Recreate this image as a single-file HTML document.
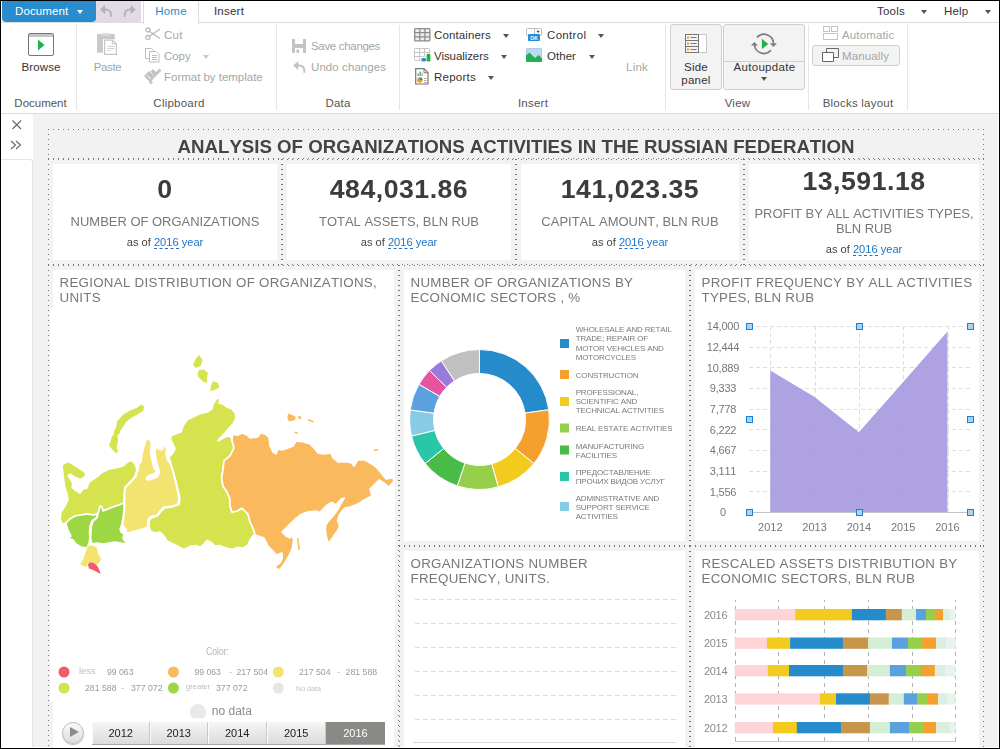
<!DOCTYPE html>
<html lang="en">
<head>
<meta charset="utf-8">
<title>Analysis of organizations activities in the Russian Federation</title>
<style>
*{box-sizing:border-box;margin:0;padding:0}
html,body{width:1000px;height:749px;overflow:hidden;background:#fff}
body{position:relative;font-family:"Liberation Sans",sans-serif;font-size:12px;color:#333}
.abs{position:absolute}
#frame{position:absolute;left:0;top:0;width:1000px;height:749px;border:1px solid #000;pointer-events:none;z-index:50}
/* ribbon */
#tabs{position:absolute;left:1px;top:1px;width:998px;height:22px;border-bottom:1px solid #dcdcdc;background:#fff}
#docbtn{position:absolute;left:1px;top:0;width:94px;height:21px;background:#288ccf;border-radius:0 0 4px 4px;color:#fff;font-size:11.5px;line-height:20px;padding-left:13px;letter-spacing:.1px}
#docbtn i{position:absolute;left:75px;top:9px;border:3px solid transparent;border-top:4px solid #fff;border-bottom:0}
#qat{position:absolute;left:94px;top:0;width:46px;height:21px;background:#e3dae7}
.tab{position:absolute;top:0;height:22px;font-size:11.5px;letter-spacing:.23px;line-height:20px;text-align:center;color:#333}
#tabhome{left:142px;width:56px;color:#288ccf;border-left:1px solid #dcdcdc;border-right:1px solid #dcdcdc;background:#fff;height:23px;z-index:2}
#tabins{left:199px;width:58px}
.menu{position:absolute;top:0;font-size:11.5px;letter-spacing:.2px;line-height:20px;color:#333}
.dd{position:absolute;width:0;height:0;border:3px solid transparent;border-top:4px solid #555;border-bottom:0}
#ribbon{position:absolute;left:1px;top:23px;width:998px;height:91px;background:#fff;border-bottom:1px solid #dcdcdc}
.sep{position:absolute;top:2px;width:1px;height:85px;background:#e6e6e6}
.glabel{position:absolute;top:72px;font-size:11.5px;letter-spacing:.23px;line-height:16px;color:#555;text-align:center;white-space:nowrap}
.rt{position:absolute;font-size:11.5px;letter-spacing:.23px;line-height:16px;color:#333;white-space:nowrap}
.dis{color:#a6a6a6}
.big{position:absolute;border:1px solid #cfcfcf;border-radius:3px;background:#f3f3f3}
/* workspace */
#work{position:absolute;left:1px;top:114px;width:997px;height:633px;background:#f2f2f2;overflow:hidden;will-change:transform;font-kerning:none}
#lpanel{position:absolute;left:0;top:0;width:32px;height:633px;background:#fff}
#lpanel2{position:absolute;left:-1px;top:45px;width:33px;height:600px;border:1px solid #e4e4e4;border-radius:0 3px 0 0;background:#fff}
.blk{position:absolute}
.blk>.bt,.blk>.bb{position:absolute;left:0;right:0;height:1px;background:repeating-linear-gradient(90deg,#777 0 1px,transparent 1px 5px)}
.blk>.bt{top:0}.blk>.bb{bottom:0}
.blk>.bl,.blk>.br{position:absolute;top:0;bottom:0;width:1px;background:repeating-linear-gradient(180deg,#777 0 1px,transparent 1px 5px)}
.blk>.bl{left:0}.blk>.br{right:0}
.blk>.in{position:absolute;left:5px;top:5px;right:5px;bottom:5px;background:#fff;overflow:hidden}
.ttl{position:absolute;left:6.5px;top:5px;font-size:13.33px;line-height:15.4px;letter-spacing:.28px;color:#777;white-space:nowrap}
.kv{position:absolute;left:0;right:0;text-align:center;font-weight:bold;font-size:26.67px;letter-spacing:.5px;line-height:30px;color:#3c3c3c;white-space:nowrap}
.kl{position:absolute;left:0;right:0;text-align:center;font-size:12.97px;line-height:15.2px;color:#777;white-space:nowrap}
.ka{position:absolute;left:0;right:0;text-align:center;font-size:11.1px;line-height:14px;color:#444;white-space:nowrap}
.ka b{font-weight:normal;color:#1a74c7}
.ka u{text-decoration:none;border-bottom:1px dashed #1a74c7}
#tl span{position:absolute;top:0;width:58.5px;height:22px;border-left:1px solid #fbfbfb;border-right:1px solid #c9c9c9}
</style>
</head>
<body>
<div id="tabs">
  <div id="qat"></div>
  <svg class="abs" style="left:94px;top:0" width="46" height="21" viewBox="95 1 46 21"><g fill="#b6b0ba"><path d="M100 9.500l5.200-4.700v9.400z"/><path d="M135.800 9.500l-5.200-4.700v9.400z"/></g><g fill="none" stroke="#b6b0ba" stroke-width="2"><path d="M104.500 9.500h1.500a5 5 0 0 1 5 5v2.300"/><path d="M131.300 9.500h-1.500a5 5 0 0 0-5 5v2.300"/></g></svg>
  <div id="docbtn">Document<i></i></div>
  <div class="tab" id="tabhome">Home</div>
  <div class="tab" id="tabins">Insert</div>
  <div class="menu" style="left:876px">Tools</div><div class="dd" style="left:920px;top:9px"></div>
  <div class="menu" style="left:943px">Help</div><div class="dd" style="left:984px;top:9px"></div>
</div>
<div id="ribbon">
  <!-- groups -->
  <div class="sep" style="left:75px"></div>
  <div class="sep" style="left:275px"></div>
  <div class="sep" style="left:398px"></div>
  <div class="sep" style="left:664px"></div>
  <div class="sep" style="left:807px"></div>
  <div class="sep" style="left:906px"></div>
  <div class="glabel" style="left:0;width:76px;padding-left:3px;letter-spacing:-0.02px">Document</div>
  <div class="glabel" style="left:78px;width:200px">Clipboard</div>
  <div class="glabel" style="left:276px;width:122px">Data</div>
  <div class="glabel" style="left:399px;width:266px">Insert</div>
  <div class="glabel" style="left:665px;width:143px">View</div>
  <div class="glabel" style="left:808px;width:98px">Blocks layout</div>

  <!-- Browse -->
  <svg class="abs" style="left:27px;top:10px" width="26" height="23" viewBox="0 0 26 23"><rect x=".5" y=".5" width="25" height="22" rx="1.5" fill="#fff" stroke="#777"/><rect x="1" y="1" width="24" height="3" fill="#c4c4c4"/><path d="M10 6.5v11l6.5-5.5z" fill="#21b04b"/></svg>
  <div class="rt" style="left:0;width:80px;top:36px;text-align:center;letter-spacing:0.13px">Browse</div>
  <!-- Paste -->
  <svg class="abs" style="left:96px;top:10px" width="21" height="23" viewBox="0 0 21 23"><rect x="0" y=".9" width="17.800" height="18.800" rx="1.200" fill="#c9c9c9"/><rect x="5" y="0" width="8" height="2.700" fill="#dedede"/><path d="M6 6h10.500l4.500 4v13h-15z" fill="#fff"/><path d="M7.600 7.100h7.800l4 4v10.200h-11.800z" fill="#fff" stroke="#c6c6c6" stroke-width="1.200"/><path d="M15.400 7.100v4h4" fill="none" stroke="#c6c6c6"/><path d="M10.500 13.500h7M10.500 15.500h7M10.500 17.500h3" stroke="#cfcfcf"/></svg>
  <div class="rt dis" style="left:81px;width:51px;top:36px;text-align:center;letter-spacing:-0.37px">Paste</div>
  <!-- Cut -->
  <svg class="abs" style="left:144px;top:4px" width="16" height="14" viewBox="0 0 16 14"><g fill="none" stroke="#b9b9b9" stroke-width="1.3"><circle cx="2.800" cy="3" r="2"/><circle cx="2.800" cy="10.500" r="2"/><path d="M4.500 4.200L15 11.500M4.500 9.300L15 2"/></g></svg>
  <div class="rt dis" style="left:163px;top:4px">Cut</div>
  <!-- Copy -->
  <svg class="abs" style="left:144px;top:25px" width="16" height="15" viewBox="0 0 16 15"><g fill="#fff" stroke="#bdbdbd"><path d="M.5 .5h6l2 2v8h-8z"/><path d="M4.500 3.500h6.500l3 3v7.500h-9.500z"/><path d="M7 7.500h5M7 9.500h5M7 11.500h5"/></g></svg>
  <div class="rt dis" style="left:163px;top:25px;letter-spacing:-0.07px">Copy</div><div class="dd" style="left:202px;top:32px;border-top-color:#c9c9c9"></div>
  <!-- Format -->
  <svg class="abs" style="left:143px;top:45px" width="18" height="17" viewBox="0 0 18 17"><g fill="#c3c3c3"><path d="M0 8l5-5 6 6-5 5.500z"/><path d="M6.500 3.500L9 1l3 3 3.500-3.500 2 2-6.500 6.500z"/><path d="M5 14.500l2-2 2 2-2 2z"/></g><path d="M3 7l4 4" stroke="#fff" stroke-width="1"/></svg>
  <div class="rt dis" style="left:163px;top:46px;letter-spacing:-0.02px">Format by template</div>
  <!-- Save / Undo -->
  <svg class="abs" style="left:291px;top:16px" width="14" height="14" viewBox="0 0 14 14"><path d="M0 0h14v14h-14z" fill="#c3c3c3"/><rect x="3" y="0" width="8" height="5" fill="#fff"/><rect x="3" y="9" width="8" height="5" fill="#fff"/><rect x="4.500" y="10.500" width="2.500" height="3.500" fill="#c3c3c3"/></svg>
  <div class="rt dis" style="left:310px;top:15px;letter-spacing:-0.32px">Save changes</div>
  <svg class="abs" style="left:291px;top:37px" width="14" height="14" viewBox="291 60 14 14"><path d="M292.200 65.400l5-4.500v9z" fill="#c2c2c2"/><path d="M296.500 65.400h2a4.800 4.800 0 0 1 4.800 4.800v2.600" fill="none" stroke="#c2c2c2" stroke-width="2"/></svg>
  <div class="rt dis" style="left:310px;top:36px;letter-spacing:0.08px">Undo changes</div>
  <!-- Insert group -->
  <svg class="abs" style="left:413px;top:5px" width="17" height="14" viewBox="0 0 17 14"><rect x=".7" y=".7" width="15.200" height="12.200" rx=".8" fill="#ededed" stroke="#8a8a8a" stroke-width="1.300"/><path d="M.7 4.700h15.200M.7 8.800h15.200M5.800 .7v12.200M10.900 .7v12.200" stroke="#8a8a8a" stroke-width="1.200"/></svg>
  <div class="rt" style="left:433px;top:4px;letter-spacing:0.13px">Containers</div><div class="dd" style="left:502px;top:11px"></div>
  <svg class="abs" style="left:413px;top:25px" width="18" height="14" viewBox="0 0 18 14"><rect x=".5" y=".5" width="15" height="12" rx=".8" fill="#fff" stroke="#c6c6c6"/><path d="M.5 4.500h15M.5 8.500h15M5.500 .5v12M10.500 .5v12" stroke="#c6c6c6"/><rect x="6.300" y="8.800" width="11.700" height="5.200" fill="#fff"/><rect x="11.500" y="5" width="6" height="4" fill="#fff"/><rect x="7.200" y="10" width="5" height="3.400" rx="1.700" fill="#2a8dd4"/><rect x="12.600" y="5.800" width="3.800" height="7.700" rx="1.300" fill="#21b04b"/></svg>
  <div class="rt" style="left:433px;top:25px;letter-spacing:-0.07px">Visualizers</div><div class="dd" style="left:500px;top:32px"></div>
  <svg class="abs" style="left:414px;top:45px" width="14" height="17" viewBox="0 0 14 17"><path d="M.7 .7h8.300l4 4v11.300h-12.300z" fill="#fff" stroke="#777" stroke-width="1.200"/><path d="M9 .7v4h4" fill="none" stroke="#777"/><path d="M3.200 5.500v2.500" stroke="#2a8dd4" stroke-width="1.200"/><path d="M5.200 3.500v4.500" stroke="#21b04b" stroke-width="1.200"/><path d="M7.200 4.700v3.300" stroke="#f29b2c" stroke-width="1.200"/><circle cx="4.800" cy="12" r="2.700" fill="#f29b2c"/><path d="M4.800 12v-2.700a2.700 2.700 0 0 1 2.700 2.700z" fill="#2a8dd4"/><path d="M9 10.500h2.500M9 12.500h2.500M9 14.500h2.500" stroke="#aaa"/></svg>
  <div class="rt" style="left:433px;top:46px">Reports</div><div class="dd" style="left:487px;top:53px"></div>
  <svg class="abs" style="left:525px;top:5px" width="17" height="14" viewBox="0 0 17 14"><rect x=".5" y=".5" width="15" height="7" rx=".8" fill="#fff" stroke="#bdbdbd"/><path d="M8.500 .5v7" stroke="#bdbdbd"/><path d="M10.400 2.800h3.400l-1.700 2.200z" fill="#444"/><rect x="2" y="6" width="12" height="7" rx="1" fill="#2a8dd4"/><text x="8" y="11.600" font-size="5" font-weight="bold" fill="#fff" text-anchor="middle" font-family="Liberation Sans, sans-serif">OK</text></svg>
  <div class="rt" style="left:546px;top:4px;letter-spacing:0.33px">Control</div><div class="dd" style="left:597px;top:11px"></div>
  <svg class="abs" style="left:525px;top:25px" width="16" height="14" viewBox="0 0 16 14"><rect x="0" y="0" width="16" height="14" rx="1" fill="#bcdbf1"/><rect x=".5" y=".5" width="15" height="13" rx="1" fill="none" stroke="#a9cde8"/><path d="M0 13V7.500l3.500-3 5.500 5.500 3.500-3 3.500 3.500v2.500a1 1 0 0 1-1 1h-14a1 1 0 0 1-1-1z" fill="#21b04b"/></svg>
  <div class="rt" style="left:546px;top:25px;letter-spacing:0.03px">Other</div><div class="dd" style="left:588px;top:32px"></div>
  <div class="rt dis" style="left:625px;top:36px">Link</div>
  <!-- View group -->
  <div class="big" style="left:669px;top:1px;width:52px;height:66px"></div>
  <svg class="abs" style="left:684px;top:11px" width="22" height="19" viewBox="0 0 22 19"><rect x=".5" y=".5" width="21" height="18" fill="#fff" stroke="#c8c8c8"/><rect x=".5" y=".5" width="13" height="18" fill="#f4f4f4" stroke="#777"/><path d="M.5 6.500h13M.5 12.500h13" stroke="#777"/><path d="M2 3.500h2M2 9.500h2M2 15.500h2" stroke="#f29b2c" stroke-width="2"/><path d="M5.500 3.500h6M5.500 9.500h6M5.500 15.500h6" stroke="#777"/></svg>
  <div class="rt" style="left:669px;width:52px;top:38px;text-align:center;line-height:13px">Side<br>panel</div>
  <div class="big" style="left:722px;top:1px;width:82px;height:66px"></div>
  <div class="abs" style="left:723px;top:38px;width:80px;height:1px;background:#cfcfcf"></div>
  <svg class="abs" style="left:749px;top:9px" width="28" height="24" viewBox="0 0 28 24"><g fill="none" stroke="#7a7a7a" stroke-width="1.700"><path d="M6.900 5.400A9.550 9.550 0 0 1 23.500 11"/><path d="M21 18.300A9.550 9.550 0 0 1 4.450 13"/></g><path d="M19.900 11.300h7l-3.400 3.700zM.95 13.600h7l-3.500-3.700z" fill="#7a7a7a"/><path d="M11.900 6.800v10.300l6.400-5.200z" fill="#21b04b"/></svg>
  <div class="rt" style="left:722px;width:83px;top:36px;text-align:center;letter-spacing:0.33px">Autoupdate</div><div class="dd" style="left:760px;top:54px"></div>
  <!-- Blocks layout -->
  <svg class="abs" style="left:822px;top:3px" width="15" height="14" viewBox="0 0 15 14"><g fill="#fff" stroke="#c4c4c4"><rect x=".5" y=".5" width="6" height="5"/><rect x="8.500" y=".5" width="6" height="5"/><rect x=".5" y="7.500" width="14" height="6"/></g></svg>
  <div class="rt dis" style="left:841px;top:4px;letter-spacing:0.13px">Automatic</div>
  <div class="big" style="left:811px;top:22px;width:88px;height:21px"></div>
  <svg class="abs" style="left:821px;top:25px" width="17" height="14" viewBox="0 0 17 14"><g fill="#f3f3f3" stroke="#666"><path d="M4.500 .5h12v9h-12z"/><path d="M.5 4.500h11v9h-11z" fill="#fff"/></g></svg>
  <div class="rt dis" style="left:841px;top:25px;letter-spacing:0.13px">Manually</div>
</div>
<div id="work">
  <div id="lpanel"></div><div id="lpanel2"></div>
  <svg class="abs" style="left:10px;top:5px" width="11" height="11" viewBox="0 0 11 11"><path d="M1.500 1.500l8.500 8.500M10 1.500l-8.500 8.500" stroke="#666" stroke-width="1.100" fill="none"/></svg>
  <svg class="abs" style="left:9px;top:26px" width="12" height="10" viewBox="0 0 12 10"><path d="M1 1l4.500 4-4.500 4M6 1l4.500 4-4.500 4" stroke="#666" stroke-width="1.100" fill="none"/></svg>
  <!-- title block -->
  <div class="blk" style="left:47px;top:15px;width:936px;height:30px"><div class="bt"></div><div class="bb"></div><div class="bl"></div><div class="br"></div>
    <div class="abs" style="left:0;right:0;top:6.5px;text-align:center;font-weight:bold;font-size:18.67px;line-height:22px;color:#444;white-space:nowrap">ANALYSIS OF ORGANIZATIONS ACTIVITIES IN THE RUSSIAN FEDERATION</div>
  </div>
  <!-- KPI cards -->
  <div class="blk" style="left:47px;top:45px;width:234px;height:106px"><div class="bt"></div><div class="bb"></div><div class="bl"></div><div class="br"></div><div class="in">
    <div class="kv" style="top:10px">0</div><div class="kl" style="top:50px">NUMBER OF ORGANIZATIONS</div><div class="ka" style="top:70.5px">as of <b><u>2016</u> year</b></div></div></div>
  <div class="blk" style="left:281px;top:45px;width:234px;height:106px"><div class="bt"></div><div class="bb"></div><div class="bl"></div><div class="br"></div><div class="in">
    <div class="kv" style="top:10px">484,031.86</div><div class="kl" style="top:50px">TOTAL ASSETS, BLN RUB</div><div class="ka" style="top:70.5px">as of <b><u>2016</u> year</b></div></div></div>
  <div class="blk" style="left:515px;top:45px;width:228px;height:106px"><div class="bt"></div><div class="bb"></div><div class="bl"></div><div class="br"></div><div class="in">
    <div class="kv" style="top:10px">141,023.35</div><div class="kl" style="top:50px">CAPITAL AMOUNT, BLN RUB</div><div class="ka" style="top:70.5px">as of <b><u>2016</u> year</b></div></div></div>
  <div class="blk" style="left:743px;top:45px;width:240px;height:106px"><div class="bt"></div><div class="bb"></div><div class="bl"></div><div class="br"></div><div class="in">
    <div class="kv" style="top:2px">13,591.18</div><div class="kl" style="top:42px">PROFIT BY ALL ACTIVITIES TYPES,<br>BLN RUB</div><div class="ka" style="top:78px">as of <b><u>2016</u> year</b></div></div></div>
  <!-- map block -->
  <div class="blk" style="left:47px;top:151px;width:351px;height:500px"><div class="bt"></div><div class="bl"></div><div class="br"></div><div class="abs" style="left:2px;top:43px;width:345px;height:394px;background:#fff"></div><div class="in" id="mapin">
    <div class="ttl">REGIONAL DISTRIBUTION OF ORGANIZATIONS,<br>UNITS</div>
    <!-- MAPSTART -->
<svg class="abs" style="left:0;top:0" width="341" height="480" viewBox="53 270 341 480">
<g stroke="#fff" stroke-width="1.6" stroke-linejoin="round">
<path fill="#d5e34f" d="M62.0 465.0 67.0 461.6 72.0 463.6 79.0 468.0 85.0 472.0 86.0 476.0 81.0 479.6 75.0 477.6 70.6 474.0 68.0 475.6 71.0 480.0 73.0 484.0 72.0 487.0 75.0 490.0 80.0 493.0 83.0 489.0 87.0 488.0 89.0 482.0 95.0 478.0 98.0 476.0 103.0 472.0 109.0 469.0 115.0 468.0 123.0 466.0 128.0 461.6 132.0 460.4 135.0 464.0 137.0 470.0 135.0 476.0 132.0 480.0 128.0 484.0 125.0 487.0 124.0 494.0 124.0 503.0 119.0 505.0 113.0 507.0 108.0 509.0 103.0 511.0 102.0 507.0 100.0 506.0 99.0 510.0 98.0 514.0 93.0 515.0 87.0 514.0 81.0 515.0 75.0 516.0 70.0 519.0 66.0 523.0 62.0 524.0 60.0 519.0 61.0 512.0 65.0 506.0 68.0 500.0 67.0 494.0 65.0 488.0 64.0 482.0 63.0 474.0z"/>
<path fill="#d5e34f" stroke="none" d="M141.4 404.4 144.2 407.0 143.0 411.0 137.0 414.8 131.0 418.0 126.2 422.0 123.0 427.0 120.2 431.0 119.4 434.0 117.8 434.8 117.4 437.0 118.2 439.4 117.2 444.4 116.6 448.0 118.2 451.2 116.2 453.2 112.2 449.6 109.0 445.2 111.0 440.6 111.8 436.6 113.8 434.8 114.2 430.4 116.2 427.2 117.2 421.2 123.0 414.8 130.2 410.4 136.6 408.0z"/>
<path fill="#9dd844" d="M66.0 523.0 70.0 519.0 75.0 516.0 81.0 515.0 87.0 514.0 93.0 515.0 98.0 514.0 96.0 518.0 92.0 521.0 90.0 526.0 89.4 532.0 90.0 538.0 89.0 543.0 87.0 548.0 81.0 547.0 76.0 544.0 73.0 540.0 68.0 538.0 71.0 536.0 68.0 530.0 66.6 526.0z"/>
<path fill="#9dd844" d="M99.0 510.0 100.0 506.4 102.0 507.0 103.0 511.0 108.0 509.0 113.0 507.0 119.0 505.0 124.0 503.0 124.0 510.0 123.0 518.0 122.0 524.0 120.0 529.0 121.0 532.0 124.0 534.0 123.0 538.0 125.0 541.0 128.0 544.0 121.0 543.0 115.0 542.0 109.0 543.0 103.0 544.0 97.0 543.0 92.0 544.0 90.6 538.0 91.0 532.0 91.4 526.0 93.4 521.0 97.0 518.0z"/>
<path fill="#f3e472" stroke="none" d="M88.0 546.0 93.0 545.6 97.0 548.0 98.0 554.0 101.0 558.0 100.0 562.0 96.0 565.0 92.0 562.0 88.0 563.0 87.0 567.0 83.0 566.0 80.0 564.0 83.0 560.0 85.0 554.0 86.6 549.0z"/>
<path fill="#ee5d6c" stroke="none" d="M89.0 562.4 93.0 562.4 97.0 565.6 99.4 570.0 100.6 574.0 97.0 572.0 93.0 570.0 89.0 568.4 88.0 565.0z"/>
<path fill="#f3e472" d="M146.0 439.4 150.0 439.4 151.4 442.0 150.6 452.0 152.0 460.0 154.0 468.0 157.0 472.0 153.0 474.0 148.0 476.0 146.0 479.0 149.0 480.0 155.0 478.0 158.0 476.0 159.4 472.0 158.0 467.0 156.0 460.0 155.0 452.0 155.6 446.0 158.0 449.0 162.0 450.0 164.6 445.0 166.6 448.0 166.0 454.0 167.0 458.0 167.0 459.0 171.0 465.0 173.0 472.0 175.0 480.0 177.4 490.0 179.0 499.0 178.0 504.0 173.0 506.0 164.0 507.0 161.0 510.0 157.0 515.0 150.0 517.0 148.0 520.0 147.4 527.0 143.0 529.0 135.0 531.0 128.0 533.0 126.0 538.0 127.0 534.0 126.0 529.0 124.0 527.0 122.6 525.0 123.6 518.0 124.6 510.0 124.6 504.0 124.6 496.0 125.0 488.0 128.0 485.0 132.0 481.0 136.0 476.0 138.0 470.0 139.0 464.0 141.0 462.0 142.0 454.0 144.0 446.0z"/>
<path fill="#d5e34f" d="M217.0 398.0 220.0 399.0 219.0 403.0 223.0 404.0 227.0 407.0 232.0 409.0 235.0 413.0 236.0 418.0 233.0 424.0 229.0 428.0 225.0 433.0 219.0 439.0 218.0 441.0 225.0 437.0 230.0 436.0 232.0 440.0 234.0 448.0 230.0 456.0 224.0 461.0 223.0 470.0 221.6 478.0 223.0 486.0 227.0 492.0 230.0 499.0 230.0 506.0 232.0 512.0 237.0 511.0 242.0 508.0 248.0 514.0 250.0 522.0 253.0 528.0 255.0 534.0 253.0 536.0 250.0 540.0 248.0 545.0 243.0 548.0 238.0 547.4 232.0 549.4 226.0 548.0 220.0 545.6 215.0 546.0 211.0 542.4 207.0 540.4 204.0 544.0 200.0 547.4 197.0 545.6 191.0 546.0 184.0 549.4 179.0 547.0 173.0 544.0 167.0 541.0 164.0 536.0 160.0 532.0 155.0 533.0 150.6 531.0 149.0 527.0 149.0 521.0 151.0 518.0 157.4 516.0 161.4 511.0 164.6 508.0 173.4 506.6 179.0 504.4 180.0 499.0 178.0 490.0 175.6 480.0 173.4 472.0 171.0 464.0 169.0 457.0 172.0 454.0 175.0 449.0 173.0 444.0 170.6 440.0 171.0 436.0 175.0 434.0 181.0 432.0 183.0 426.0 187.0 420.0 193.0 417.0 199.0 414.0 207.0 412.0 212.0 409.0 213.0 404.0z"/>
<path fill="#d5e34f" stroke="none" d="M199.0 355.0 202.6 360.0 200.6 366.0 196.0 368.0 193.0 365.0 195.0 360.0z"/>
<path fill="#d5e34f" stroke="none" d="M199.0 370.0 204.0 369.6 208.0 373.0 207.0 378.0 207.4 383.0 204.0 382.0 199.0 378.0 197.4 374.0z"/>
<path fill="#d5e34f" stroke="none" d="M213.0 381.0 218.0 383.0 219.4 387.0 216.0 389.6 210.0 391.0 211.0 386.0z"/>
<path fill="#f9b95c" d="M233.0 433.6 237.0 435.6 242.0 433.0 247.0 435.0 250.0 438.0 258.0 437.0 260.0 433.0 265.0 434.0 269.0 437.0 270.0 446.0 273.0 452.0 276.0 454.0 278.0 449.0 282.0 450.0 288.0 448.0 293.0 446.0 296.0 441.0 302.0 441.6 310.0 444.0 314.0 448.0 318.0 453.0 324.0 454.0 331.0 453.0 333.0 458.0 338.0 462.0 345.0 461.6 352.0 463.0 354.0 466.4 358.0 459.6 365.0 460.0 372.0 464.0 378.0 469.0 382.0 474.0 386.0 479.0 393.0 478.0 394.0 481.0 389.0 487.0 384.0 483.0 379.0 480.0 375.0 484.0 370.0 489.0 372.0 496.0 366.0 499.0 358.0 504.0 350.0 507.0 344.8 508.0 342.0 511.0 339.0 516.0 337.6 520.4 339.4 525.0 338.4 529.4 335.4 533.4 332.8 537.4 330.4 541.0 328.2 542.8 326.2 536.0 325.4 530.0 325.8 525.0 328.4 521.0 331.4 518.0 335.0 513.6 338.4 508.4 341.2 503.0 344.4 498.0 341.0 499.0 338.0 502.4 336.0 505.0 332.0 502.4 327.0 505.0 322.0 510.0 320.0 512.4 316.0 511.0 306.0 512.4 300.0 515.0 294.0 520.0 288.0 526.0 282.0 532.0 286.0 536.0 290.0 538.0 292.0 535.0 293.6 540.0 292.4 548.0 290.0 554.0 286.0 561.0 282.0 567.0 279.0 570.0 275.6 568.0 276.0 565.6 280.0 563.0 282.4 558.0 282.0 553.0 276.0 555.0 272.0 550.0 268.0 546.0 264.0 538.0 258.0 536.0 255.0 535.0 255.0 534.0 253.0 528.0 250.0 522.0 248.0 514.0 242.0 508.0 237.0 511.0 232.0 512.0 230.0 506.0 230.0 499.0 227.0 492.0 223.0 486.0 221.6 478.0 223.0 470.0 224.0 461.0 230.0 456.0 234.0 448.0 232.0 440.0z"/>
<path fill="#f9b95c" stroke="none" d="M288.0 413.6 292.0 415.0 295.6 416.4 295.0 420.0 289.0 421.6 287.4 418.0z"/>
<path fill="#f9b95c" stroke="none" d="M298.4 415.6 301.0 416.4 300.6 419.6 298.4 418.4z"/>
<path fill="#f9b95c" stroke="none" d="M308.0 419.0 313.6 421.0 313.0 422.4 308.0 420.4z"/>
<path fill="#f9b95c" stroke="none" d="M294.4 431.4 298.0 432.4 297.6 434.0 294.4 432.8z"/>
<path fill="#f9b95c" stroke="none" d="M374.0 449.4 378.4 449.0 378.0 450.6 373.6 451.0z"/>
<path fill="#f9b95c" stroke="none" d="M297.0 538.0 298.4 538.0 300.0 549.6 298.4 550.0z"/>
</g>
<g font-family="Liberation Sans, sans-serif">
<text x="206" y="655.3" font-size="10" fill="#b4b4b4" textLength="23" lengthAdjust="spacingAndGlyphs">Color:</text>
<circle cx="64" cy="672" r="5.5" fill="#ee5d6c"/><circle cx="173.4" cy="672" r="5.5" fill="#f9b95c"/><circle cx="278.3" cy="672" r="5.5" fill="#f3e472"/><circle cx="64" cy="688" r="5.5" fill="#d5e34f"/><circle cx="173.4" cy="688" r="5.5" fill="#9dd844"/><circle cx="278.3" cy="688" r="5.5" fill="#e6e6e6"/>
<g font-size="9.500" fill="#9a9a9a"><text x="107" y="675.3" textLength="26.5" lengthAdjust="spacingAndGlyphs">99 063</text><text x="194.4" y="675.3" textLength="26.5" lengthAdjust="spacingAndGlyphs">99 063</text><text x="229" y="675.3" fill="#bbb">-</text><text x="236.5" y="675.3" textLength="31.5" lengthAdjust="spacingAndGlyphs">217 504</text><text x="299" y="675.3" textLength="31.5" lengthAdjust="spacingAndGlyphs">217 504</text><text x="337" y="675.3" fill="#bbb">-</text><text x="345.6" y="675.3" textLength="31.5" lengthAdjust="spacingAndGlyphs">281 588</text><text x="85" y="691.3" textLength="31.5" lengthAdjust="spacingAndGlyphs">281 588</text><text x="121" y="691.3" fill="#bbb">-</text><text x="131" y="691.3" textLength="31.5" lengthAdjust="spacingAndGlyphs">377 072</text><text x="216" y="691.3" textLength="31.5" lengthAdjust="spacingAndGlyphs">377 072</text></g>
<text x="79" y="674.3" textLength="16.5" lengthAdjust="spacingAndGlyphs" font-size="9.500" fill="#bdbdbd">less</text><text x="186" y="688.8" textLength="24" lengthAdjust="spacingAndGlyphs" font-size="7.500" fill="#bdbdbd">greater</text><text x="296" y="691" textLength="25" lengthAdjust="spacingAndGlyphs" font-size="7.500" fill="#c4c4c4">No data</text>
<path d="M190.500 714.800a8 8 0 1 1 15 0l-1.700 3.400h-11.600z" fill="#e9e9e9"/><text x="211.8" y="714.6" textLength="40" lengthAdjust="spacingAndGlyphs" font-size="12.300" fill="#8c8c8c">no data</text>
</g>
</svg>
<div class="abs" style="left:9px;top:452px;width:22px;height:22px;border-radius:11px;border:1px solid #bdbdbd;background:linear-gradient(#fafafa,#dedede);box-shadow:0 1px 1px rgba(0,0,0,.25)"></div>
<div class="abs" style="left:17px;top:457px;width:0;height:0;border:5px solid transparent;border-left:9px solid #8b8b8b;border-right:0"></div>
<div class="abs" id="tl" style="left:39px;top:452px;width:293px;height:23px;border-bottom:1px solid #a8a8a8;background:linear-gradient(#f6f6f6,#dbdbdb);font-size:11px;line-height:22px;color:#222;text-align:center">
<span style="left:0;width:57.500px">2012</span><span style="left:57.500px">2013</span><span style="left:116px">2014</span><span style="left:174.500px;width:59.500px">2015</span><span style="left:234px;width:59px;background:#8b8986;color:#fff;border:0">2016</span></div>
    <!-- MAPEND -->
  </div></div>
  <!-- donut block -->
  <div class="blk" style="left:398px;top:151px;width:291px;height:281px"><div class="bt"></div><div class="bb"></div><div class="bl"></div><div class="br"></div><div class="in" id="donutin">
    <div class="ttl">NUMBER OF ORGANIZATIONS BY<br>ECONOMIC SECTORS , %</div>
    <!-- DONUTSTART -->
<svg class="abs" style="left:0;top:0" width="281" height="271" viewBox="404 270 281 271">
<g stroke="#fff" stroke-width="1">
<path fill="#268bca" d="M479.50 349.50A70 70 0 0 1 548.82 409.76L525.05 413.10A46 46 0 0 0 479.50 373.50z"/>
<path fill="#f4a02e" d="M548.82 409.76A70 70 0 0 1 533.90 463.55L515.25 448.45A46 46 0 0 0 525.05 413.10z"/>
<path fill="#f3cb1f" d="M533.90 463.55A70 70 0 0 1 498.21 486.95L491.79 463.83A46 46 0 0 0 515.25 448.45z"/>
<path fill="#95cf4c" d="M498.21 486.95A70 70 0 0 1 457.29 485.88L464.90 463.12A46 46 0 0 0 491.79 463.83z"/>
<path fill="#49bb48" d="M457.29 485.88A70 70 0 0 1 425.10 463.55L443.75 448.45A46 46 0 0 0 464.90 463.12z"/>
<path fill="#29c7a8" d="M425.10 463.55A70 70 0 0 1 411.49 436.08L434.81 430.39A46 46 0 0 0 443.75 448.45z"/>
<path fill="#88cbe6" d="M411.49 436.08A70 70 0 0 1 410.16 409.88L433.94 413.18A46 46 0 0 0 434.81 430.39z"/>
<path fill="#5ba1df" d="M410.16 409.88A70 70 0 0 1 419.00 384.29L439.74 396.36A46 46 0 0 0 433.94 413.18z"/>
<path fill="#e454a1" d="M419.00 384.29A70 70 0 0 1 429.49 370.52L446.63 387.32A46 46 0 0 0 439.74 396.36z"/>
<path fill="#9b7bd8" d="M429.49 370.52A70 70 0 0 1 441.38 360.79L454.45 380.92A46 46 0 0 0 446.63 387.32z"/>
<path fill="#c0c0c0" d="M441.38 360.79A70 70 0 0 1 479.50 349.50L479.50 373.50A46 46 0 0 0 454.45 380.92z"/>
</g>
<g font-family="Liberation Sans, sans-serif" font-size="8" letter-spacing="-0.15" fill="#7a7a7a">
<rect x="560" y="339" width="9" height="9" fill="#268bca"/><text x="575.7" y="332.3">WHOLESALE AND RETAIL</text><text x="575.7" y="341.4">TRADE; REPAIR OF</text><text x="575.7" y="350.5">MOTOR VEHICLES AND</text><text x="575.7" y="359.6">MOTORCYCLES</text>
<rect x="560" y="370" width="9" height="9" fill="#f4a02e"/><text x="575.7" y="377.8">CONSTRUCTION</text>
<rect x="560" y="397" width="9" height="9" fill="#f3cb1f"/><text x="575.7" y="394.8">PROFESSIONAL,</text><text x="575.7" y="403.8">SCIENTIFIC AND</text><text x="575.7" y="412.8">TECHNICAL ACTIVITIES</text>
<rect x="560" y="423.5" width="9" height="9" fill="#95cf4c"/><text x="575.7" y="431.2">REAL ESTATE ACTIVITIES</text>
<rect x="560" y="445.5" width="9" height="9" fill="#49bb48"/><text x="575.7" y="449">MANUFACTURING</text><text x="575.7" y="458">FACILITIES</text>
<rect x="560" y="472" width="9" height="9" fill="#29c7a8"/><text x="575.7" y="475.4">ПРЕДОСТАВЛЕНИЕ</text><text x="575.7" y="484.3">ПРОЧИХ ВИДОВ УСЛУГ</text>
<rect x="560" y="502" width="9" height="9" fill="#88cbe6"/><text x="575.7" y="500.9">ADMINISTRATIVE AND</text><text x="575.7" y="509.9">SUPPORT SERVICE</text><text x="575.7" y="519">ACTIVITIES</text>
</g>
</svg>
    <!-- DONUTEND -->
  </div></div>
  <!-- area block -->
  <div class="blk" style="left:689px;top:151px;width:294px;height:281px"><div class="bt"></div><div class="bb"></div><div class="bl"></div><div class="br"></div><div class="in" id="areain">
    <div class="ttl">PROFIT FREQUENCY BY ALL ACTIVITIES<br>TYPES, BLN RUB</div>
    <!-- AREASTART -->
<svg class="abs" style="left:0;top:0" width="284" height="271" viewBox="695 270 284 271">
<g stroke="#dedede" stroke-dasharray="4 3" fill="none" shape-rendering="crispEdges">
<path d="M749 326.5H970"/><path d="M749 347.5H970"/><path d="M749 367.5H970"/><path d="M749 388.5H970"/><path d="M749 409.5H970"/><path d="M749 429.5H970"/><path d="M749 450.5H970"/><path d="M749 471.5H970"/><path d="M749 491.5H970"/><path d="M770.5 326V512"/><path d="M815.5 326V512"/><path d="M859.5 326V512"/><path d="M903.5 326V512"/><path d="M948.5 326V512"/>
</g>
<path fill="#a598e0" fill-opacity=".9" d="M770.3 512L770.3 370.5L814.6 397.0L858.9 432.3L903.2 382.0L947.5 331.5L947.5 512z"/>
<path d="M749 512.5H970" stroke="#c4c4c4" shape-rendering="crispEdges"/>
<g font-family="Liberation Sans, sans-serif" font-size="11" fill="#777" text-anchor="middle">
<text x="723" y="330.2" letter-spacing="-0.2">14,000</text><text x="723" y="350.9" letter-spacing="-0.2">12,444</text><text x="723" y="371.5" letter-spacing="-0.2">10,889</text><text x="723" y="392.2" letter-spacing="-0.2">9,333</text><text x="723" y="412.9" letter-spacing="-0.2">7,778</text><text x="723" y="433.5" letter-spacing="-0.2">6,222</text><text x="723" y="454.2" letter-spacing="-0.2">4,667</text><text x="723" y="474.9" letter-spacing="-0.2">3,111</text><text x="723" y="495.5" letter-spacing="-0.2">1,556</text><text x="723" y="516.2" letter-spacing="-0.2">0</text>
<text x="770.3" y="530.6">2012</text><text x="814.6" y="530.6">2013</text><text x="858.9" y="530.6">2014</text><text x="903.2" y="530.6">2015</text><text x="947.5" y="530.6">2016</text>
</g>
<g fill="#a9d3f1" stroke="#1c80d6" shape-rendering="crispEdges">
<rect x="746.5" y="323.5" width="6" height="6"/><rect x="746.5" y="416.5" width="6" height="6"/><rect x="746.5" y="509.5" width="6" height="6"/><rect x="856.5" y="323.5" width="6" height="6"/><rect x="856.5" y="509.5" width="6" height="6"/><rect x="967.5" y="323.5" width="6" height="6"/><rect x="967.5" y="416.5" width="6" height="6"/><rect x="967.5" y="509.5" width="6" height="6"/>
</g>
</svg>
    <!-- AREAEND -->
  </div></div>
  <!-- freq block -->
  <div class="blk" style="left:398px;top:432px;width:291px;height:260px"><div class="bt"></div><div class="bl"></div><div class="br"></div><div class="in" id="freqin">
    <div class="ttl">ORGANIZATIONS NUMBER<br>FREQUENCY, UNITS.</div>
    <!-- FREQSTART -->
<svg class="abs" style="left:0;top:0" width="281" height="198" viewBox="404 551 281 198">
<g stroke="#dedede" stroke-dasharray="5 3" shape-rendering="crispEdges"><path d="M415 599.5H676"/><path d="M415 623.5H676"/><path d="M415 647.5H676"/><path d="M415 671.5H676"/><path d="M415 695.5H676"/><path d="M415 719.5H676"/></g>
<path d="M413 742.5H676" stroke="#d8d8d8" shape-rendering="crispEdges"/>
</svg>
    <!-- FREQEND -->
  </div></div>
  <!-- bars block -->
  <div class="blk" style="left:689px;top:432px;width:294px;height:260px"><div class="bt"></div><div class="bl"></div><div class="br"></div><div class="in" id="barsin">
    <div class="ttl">RESCALED ASSETS DISTRIBUTION BY<br>ECONOMIC SECTORS, BLN RUB</div>
    <!-- BARSSTART -->
<svg class="abs" style="left:0;top:0" width="284" height="198" viewBox="695 551 284 198">
<g stroke="#b0b0b0" stroke-dasharray="4 3.7" stroke-dashoffset="1.7" shape-rendering="crispEdges"><path d="M735.5 600V741"/><path d="M778.5 600V741"/><path d="M824.5 600V741"/><path d="M868.5 600V741"/><path d="M912.5 600V741"/><path d="M955.5 600V741"/></g>
<rect x="734.7" y="609" width="60.5" height="11.300" fill="#ffd4d6"/><rect x="795.1" y="609" width="57.0" height="11.300" fill="#f3cb1f"/><rect x="851.9" y="609" width="34.1" height="11.300" fill="#268bca"/><rect x="885.8" y="609" width="16.2" height="11.300" fill="#c8964a"/><rect x="901.8" y="609" width="14.4" height="11.300" fill="#d4efd6"/><rect x="916.0" y="609" width="10.1" height="11.300" fill="#5ba1df"/><rect x="925.9" y="609" width="9.2" height="11.300" fill="#95cf4c"/><rect x="934.8" y="609" width="8.3" height="11.300" fill="#f4a02e"/><rect x="943.0" y="609" width="7.5" height="11.300" fill="#dceee0"/><rect x="950.2" y="609" width="5.4" height="11.300" fill="#e8f3ee"/>
<rect x="734.7" y="637.5" width="32.4" height="11.300" fill="#ffd4d6"/><rect x="766.9" y="637.5" width="23.4" height="11.300" fill="#f3cb1f"/><rect x="790.1" y="637.5" width="53.0" height="11.300" fill="#268bca"/><rect x="842.9" y="637.5" width="25.4" height="11.300" fill="#c8964a"/><rect x="868.1" y="637.5" width="24.0" height="11.300" fill="#d4efd6"/><rect x="891.9" y="637.5" width="16.2" height="11.300" fill="#5ba1df"/><rect x="907.9" y="637.5" width="14.4" height="11.300" fill="#95cf4c"/><rect x="922.1" y="637.5" width="14.1" height="11.300" fill="#f4a02e"/><rect x="936.0" y="637.5" width="10.1" height="11.300" fill="#dceee0"/><rect x="945.9" y="637.5" width="9.8" height="11.300" fill="#e8f3ee"/>
<rect x="734.7" y="665" width="33.3" height="11.300" fill="#ffd4d6"/><rect x="767.8" y="665" width="21.4" height="11.300" fill="#f3cb1f"/><rect x="789.0" y="665" width="54.1" height="11.300" fill="#268bca"/><rect x="842.9" y="665" width="24.6" height="11.300" fill="#c8964a"/><rect x="867.3" y="665" width="22.8" height="11.300" fill="#d4efd6"/><rect x="889.9" y="665" width="16.2" height="11.300" fill="#5ba1df"/><rect x="905.8" y="665" width="15.3" height="11.300" fill="#95cf4c"/><rect x="920.9" y="665" width="14.1" height="11.300" fill="#f4a02e"/><rect x="934.8" y="665" width="10.4" height="11.300" fill="#dceee0"/><rect x="945.0" y="665" width="10.6" height="11.300" fill="#e8f3ee"/>
<rect x="734.7" y="693.3" width="85.5" height="11.300" fill="#ffd4d6"/><rect x="820.0" y="693.3" width="16.2" height="11.300" fill="#f3cb1f"/><rect x="836.0" y="693.3" width="34.1" height="11.300" fill="#268bca"/><rect x="869.9" y="693.3" width="19.1" height="11.300" fill="#c8964a"/><rect x="888.7" y="693.3" width="15.3" height="11.300" fill="#d4efd6"/><rect x="903.8" y="693.3" width="13.3" height="11.300" fill="#5ba1df"/><rect x="916.9" y="693.3" width="11.2" height="11.300" fill="#95cf4c"/><rect x="927.9" y="693.3" width="10.4" height="11.300" fill="#f4a02e"/><rect x="938.0" y="693.3" width="9.2" height="11.300" fill="#dceee0"/><rect x="947.0" y="693.3" width="8.6" height="11.300" fill="#e8f3ee"/>
<rect x="734.7" y="722" width="38.5" height="11.300" fill="#ffd4d6"/><rect x="773.0" y="722" width="24.0" height="11.300" fill="#f3cb1f"/><rect x="796.8" y="722" width="44.3" height="11.300" fill="#268bca"/><rect x="840.9" y="722" width="29.2" height="11.300" fill="#c8964a"/><rect x="869.9" y="722" width="20.2" height="11.300" fill="#d4efd6"/><rect x="889.9" y="722" width="19.3" height="11.300" fill="#5ba1df"/><rect x="909.0" y="722" width="14.1" height="11.300" fill="#95cf4c"/><rect x="923.0" y="722" width="13.3" height="11.300" fill="#f4a02e"/><rect x="936.0" y="722" width="14.4" height="11.300" fill="#dceee0"/><rect x="950.2" y="722" width="5.4" height="11.300" fill="#e8f3ee"/>
<path d="M735 741.5H956" stroke="#c8c8c8" shape-rendering="crispEdges"/>
<g font-family="Liberation Sans, sans-serif" font-size="11" fill="#8a8a8a"><text x="704" y="618.6" textLength="23.500">2016</text><text x="704" y="647.1" textLength="23.500">2015</text><text x="704" y="674.6" textLength="23.500">2014</text><text x="704" y="702.9" textLength="23.500">2013</text><text x="704" y="731.6" textLength="23.500">2012</text></g>
</svg>
    <!-- BARSEND -->
  </div></div>
</div>
<div id="frame"></div>
</body>
</html>
